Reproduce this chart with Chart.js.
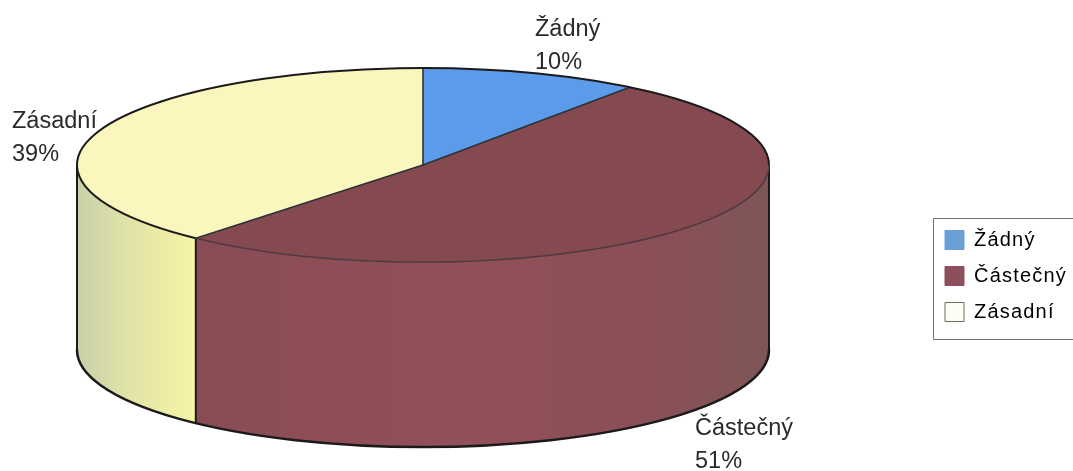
<!DOCTYPE html>
<html lang="cs">
<head>
<meta charset="utf-8">
<title>Koláčový graf</title>
<script src="https://cdn.jsdelivr.net/npm/chart.js@4"></script>
<style>
    html, body { margin: 0; padding: 0; background: #fff; overflow: hidden; }
    canvas { display: block; filter: blur(0.45px); }
</style>
</head>
<body>
<canvas id="pieChart" width="1073" height="471"></canvas>
<script>
// Data
const categories = ['Žádný', 'Částečný', 'Zásadní'];
const values = [10.2, 51.2, 38.6];
const percentLabels = ['10%', '51%', '39%'];

// Barvy
const topColors = ['#5c9aea', '#844a50', '#faf6be'];
const legendFill = ['#6a9fd8', '#8e4f5c', '#fdfdf6'];
const legendStroke = ['#6a9fd8', '#8e4f5c', '#66705e'];
const wallStops = [
    [],
    [[0, '#894c54'], [0.45, '#925058'], [0.8, '#8a4f56'], [1, '#7e5657']],
    [[0, '#c8d0a8'], [0.45, '#e2e4a8'], [1, '#f7f4a2']]
];

// Geometrie valce na strance
const pie = { cx: 423, cy: 165, rx: 346, ry: 97, depth: 185 };
const labelBoxes = [
    { x: 535, y: 36 },
    { x: 695, y: 435 },
    { x: 12, y: 128 }
];
const legendFrame = { x: 933, y: 218, bottom: 339 };

const pie3d = {
    id: 'pie3d',
    afterLayout(chart) {
        // legenda ma v predloze pevne misto
        const legend = chart.legend;
        const w = legend.width, h = legend.height;
        legend.left = 929;
        legend.right = 929 + w;
        legend.top = 214;
        legend.bottom = 214 + h;
    },
    beforeDraw(chart) {
        chart.ctx.letterSpacing = '1.2px';
    },
    beforeDatasetsDraw(chart) {
        const ctx = chart.ctx;
        const arcs = chart.getDatasetMeta(0).data;

        // plast valce, jen predni polovina
        arcs.forEach((arc, i) => {
            const a0 = Math.max(arc.startAngle, 0);
            const a1 = Math.min(arc.endAngle, Math.PI);
            if (a1 <= a0) return;
            const x0 = pie.cx + pie.rx * Math.cos(a0);
            const x1 = pie.cx + pie.rx * Math.cos(a1);
            const grad = ctx.createLinearGradient(Math.min(x0, x1), 0, Math.max(x0, x1), 0);
            wallStops[i].forEach(s => grad.addColorStop(s[0], s[1]));
            ctx.beginPath();
            ctx.ellipse(pie.cx, pie.cy, pie.rx, pie.ry, 0, a0, a1);
            ctx.ellipse(pie.cx, pie.cy + pie.depth, pie.rx, pie.ry, 0, a1, a0, true);
            ctx.closePath();
            ctx.fillStyle = grad;
            ctx.fill();
        });

        // horni plocha: obloukove elementy jen zmacknu do elipsy
        const first = arcs[0];
        ctx.save();
        ctx.translate(pie.cx, pie.cy);
        ctx.scale(pie.rx / first.outerRadius, pie.ry / first.outerRadius);
        ctx.translate(-first.x, -first.y);
    },
    afterDatasetsDraw(chart) {
        const ctx = chart.ctx;
        ctx.restore();
        const arcs = chart.getDatasetMeta(0).data;
        const split = arcs[1].endAngle;
        const splitX = pie.cx + pie.rx * Math.cos(split);
        const splitY = pie.cy + pie.ry * Math.sin(split);

        ctx.lineCap = 'round';

        // obrysy plaste
        ctx.strokeStyle = '#1c1a1a';
        ctx.lineWidth = 2;
        ctx.beginPath();
        ctx.moveTo(pie.cx - pie.rx, pie.cy);
        ctx.lineTo(pie.cx - pie.rx, pie.cy + pie.depth);
        ctx.moveTo(pie.cx + pie.rx, pie.cy);
        ctx.lineTo(pie.cx + pie.rx, pie.cy + pie.depth);
        ctx.moveTo(splitX, splitY);
        ctx.lineTo(splitX, splitY + pie.depth);
        ctx.stroke();
        ctx.lineWidth = 2.5;
        ctx.beginPath();
        ctx.ellipse(pie.cx, pie.cy + pie.depth, pie.rx, pie.ry, 0, 0, Math.PI);
        ctx.stroke();

        // paprsky mezi vysecemi
        ctx.strokeStyle = '#2b3238';
        ctx.lineWidth = 1.6;
        arcs.forEach(arc => {
            ctx.beginPath();
            ctx.moveTo(pie.cx, pie.cy);
            ctx.lineTo(pie.cx + pie.rx * Math.cos(arc.startAngle), pie.cy + pie.ry * Math.sin(arc.startAngle));
            ctx.stroke();
        });

        // okraj horni plochy, vpredu pres cervenou je svetlejsi
        ctx.strokeStyle = '#1c1a1a';
        ctx.lineWidth = 2;
        ctx.beginPath();
        ctx.ellipse(pie.cx, pie.cy, pie.rx, pie.ry, 0, split, Math.PI * 2);
        ctx.stroke();
        ctx.strokeStyle = '#4e3a42';
        ctx.lineWidth = 1.6;
        ctx.beginPath();
        ctx.ellipse(pie.cx, pie.cy, pie.rx, pie.ry, 0, 0, split);
        ctx.stroke();

        // popisky
        ctx.save();
        ctx.letterSpacing = '0px';
        ctx.fillStyle = '#2a2a2a';
        ctx.font = '23.5px "Liberation Sans"';
        ctx.textAlign = 'left';
        ctx.textBaseline = 'alphabetic';
        categories.forEach((name, i) => {
            ctx.fillText(name, labelBoxes[i].x, labelBoxes[i].y);
            ctx.fillText(percentLabels[i], labelBoxes[i].x, labelBoxes[i].y + 33);
        });
        ctx.restore();

        // ramecek legendy, vpravo odriznuty okrajem
        ctx.strokeStyle = '#6f6f6f';
        ctx.lineWidth = 1;
        ctx.beginPath();
        ctx.moveTo(chart.width, legendFrame.y + 0.5);
        ctx.lineTo(legendFrame.x + 0.5, legendFrame.y + 0.5);
        ctx.lineTo(legendFrame.x + 0.5, legendFrame.bottom + 0.5);
        ctx.lineTo(chart.width, legendFrame.bottom + 0.5);
        ctx.stroke();
    }
};

new Chart(document.getElementById('pieChart'), {
    type: 'pie',
    data: {
        labels: categories,
        datasets: [{
            data: values,
            backgroundColor: topColors,
            borderWidth: 0
        }]
    },
    options: {
        responsive: false,
        animation: false,
        plugins: {
            tooltip: { enabled: false },
            legend: {
                position: 'right',
                align: 'start',
                labels: {
                    color: '#1e1e1e',
                    font: { family: '"Liberation Sans"', size: 20 },
                    boxWidth: 19,
                    boxHeight: 19,
                    padding: 16,
                    generateLabels: () => categories.map((name, i) => ({
                        text: name,
                        fillStyle: legendFill[i],
                        strokeStyle: legendStroke[i],
                        lineWidth: 1,
                        index: i
                    }))
                }
            }
        }
    },
    plugins: [pie3d]
});
</script>
</body>
</html>
